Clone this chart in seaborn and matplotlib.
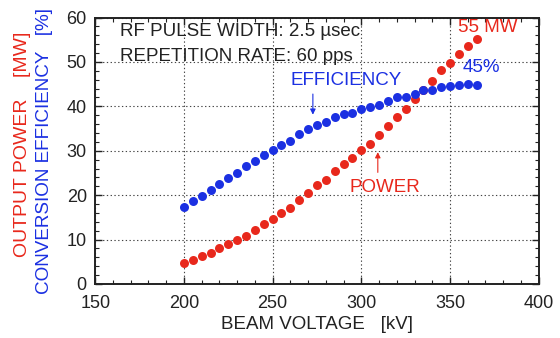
import matplotlib
matplotlib.use("Agg")
import matplotlib.pyplot as plt
from matplotlib.ticker import MultipleLocator
import seaborn as sns
import pandas as pd

voltage = [200, 205, 210, 215, 220, 225, 230, 235, 240, 245, 250, 255, 260, 265,
           270, 275, 280, 285, 290, 295, 300, 305, 310, 315, 320, 325, 330, 335,
           340, 345, 350, 355, 360, 365]
efficiency = [17.3, 18.6, 19.8, 21.1, 22.6, 23.9, 25.0, 26.5, 27.8, 29.1, 30.1, 31.4,
              32.3, 33.8, 34.8, 35.9, 36.5, 37.6, 38.3, 38.6, 39.4, 39.8, 40.3, 41.3,
              42.0, 42.1, 42.8, 43.6, 43.7, 44.3, 44.5, 44.7, 45.0, 44.9]
power = [4.7, 5.4, 6.2, 6.9, 8.1, 8.9, 9.9, 10.9, 12.2, 13.4, 14.6, 15.9, 17.1, 18.8,
         20.5, 22.2, 23.5, 25.4, 27.0, 28.3, 30.2, 31.5, 33.6, 35.6, 37.7, 39.4, 41.6,
         43.7, 45.8, 48.1, 49.7, 51.8, 53.7, 55.2]

RED = "#e8281c"
BLUE = "#1b30e2"
INK = "#222222"

df = pd.DataFrame({"voltage": voltage, "efficiency": efficiency, "power": power})

sns.set_theme(style="ticks")
plt.rcParams["font.family"] = ["Liberation Sans", "DejaVu Sans"]

fig = plt.figure(figsize=(5.6, 3.38), dpi=100)
ax = fig.add_axes([0.170, 0.160, 0.792, 0.788])

sns.scatterplot(data=df, x="voltage", y="power", color=RED, s=42, linewidth=0, ax=ax, zorder=3)
sns.scatterplot(data=df, x="voltage", y="efficiency", color=BLUE, s=42, linewidth=0, ax=ax, zorder=4)

ax.set_xlim(150, 400)
ax.set_ylim(0, 60)
ax.xaxis.set_major_locator(MultipleLocator(50))
ax.xaxis.set_minor_locator(MultipleLocator(10))
ax.yaxis.set_major_locator(MultipleLocator(10))
ax.yaxis.set_minor_locator(MultipleLocator(2))
ax.tick_params(which="both", direction="in", top=True, right=True, color=INK)
ax.tick_params(which="major", length=5, width=1.0, labelsize=13, pad=6, labelcolor=INK)
ax.tick_params(axis="x", which="major", pad=8)
ax.tick_params(which="minor", length=3, width=0.8)
for s in ax.spines.values():
    s.set_linewidth(1.4)
    s.set_color(INK)
ax.grid(True, which="major", linestyle=(0, (1.2, 2.2)), color="#444444", linewidth=0.8)
ax.set_axisbelow(True)

ax.set_xlabel("BEAM VOLTAGE   [kV]", fontsize=13.5, color=INK, labelpad=3)
ax.set_ylabel("")
fig.text(0.041, 0.572, "OUTPUT POWER    [MW]", rotation=90, color=RED, fontsize=14,
         ha="center", va="center")
fig.text(0.080, 0.553, "CONVERSION EFFICIENCY   [%]", rotation=90, color=BLUE, fontsize=13.6,
         ha="center", va="center")

ax.text(164, 56.9, "RF PULSE WIDTH: 2.5 \u00b5sec", fontsize=13.5, color=INK, va="center")
ax.text(164, 51.3, "REPETITION RATE: 60 pps", fontsize=13.5, color=INK, va="center")

ax.text(260.3, 45.8, "EFFICIENCY", fontsize=13.5, color=BLUE, va="center")
ax.annotate("", xy=(272.7, 37.5), xytext=(272.7, 43.4),
            arrowprops=dict(arrowstyle="-|>", color=BLUE, lw=0.8, mutation_scale=8))
ax.text(293.5, 21.8, "POWER", fontsize=13.5, color=RED, va="center")
ax.annotate("", xy=(309.3, 30.3), xytext=(309.3, 24.5),
            arrowprops=dict(arrowstyle="-|>", color=RED, lw=0.8, mutation_scale=8))
ax.text(354.5, 57.7, "55 MW", fontsize=13.5, color=RED, va="center")
ax.text(357, 48.7, "45%", fontsize=13.5, color=BLUE, va="center")

fig.savefig("out.png", dpi=100)
